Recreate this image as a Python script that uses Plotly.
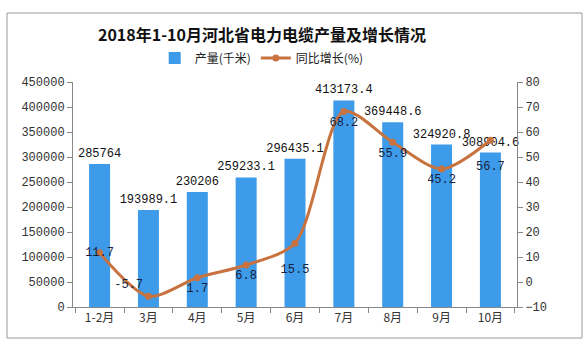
import plotly.graph_objects as go

categories = ["1-2月", "3月", "4月", "5月", "6月", "7月", "8月", "9月", "10月"]
output_km = [285764, 193989.1, 230206, 259233.1, 296435.1, 413173.4, 369448.6, 324920.8, 308904.6]
growth_pct = [11.7, -5.7, 1.7, 6.8, 15.5, 68.2, 55.9, 45.2, 56.7]
bar_labels = ["285764", "193989.1", "230206", "259233.1", "296435.1", "413173.4", "369448.6", "324920.8", "308904.6"]
line_labels = ["11.7", "-5.7", "1.7", "6.8", "<br>15.5", "68.2", "55.9", "45.2", "<br>56.7"]
line_textpos = ["middle center", "top left", "bottom center", "bottom center", "bottom center",
                "bottom center", "bottom center", "bottom center", "bottom center"]

bar_color = "#3D9BE9"
line_color = "#C8733F"
mono = "Liberation Mono"
cjk = "Noto Sans CJK SC"

fig = go.Figure()
fig.add_trace(go.Bar(
    x=categories, y=output_km, name="产量(千米)",
    marker=dict(color=bar_color, line=dict(width=0)),
    width=0.43,
    text=bar_labels, textposition="outside", cliponaxis=False, constraintext="none",
    textfont=dict(family=mono, size=12, color="#111111"),
))
fig.add_trace(go.Scatter(
    x=categories, y=growth_pct, name="同比增长(%)", yaxis="y2",
    mode="lines+markers+text",
    line=dict(color=line_color, width=3, shape="spline", smoothing=0.8),
    marker=dict(color=line_color, size=7),
    text=line_labels, textposition=line_textpos, cliponaxis=False,
    textfont=dict(family=mono, size=12, color="#1a1f3d"),
))

axis_common = dict(showgrid=False, zeroline=False, showline=True, linecolor="#888888",
                   linewidth=1, ticks="outside", ticklen=5, tickcolor="#888888",
                   tickformat="d",
                   tickfont=dict(family=mono, size=12, color="#333333"))

fig.update_layout(
    width=587, height=346,
    margin=dict(l=73, r=70, t=82, b=39),
    paper_bgcolor="white", plot_bgcolor="white",
    title=dict(text="<b>2018年1-10月河北省电力电缆产量及增长情况</b>",
               x=262 / 587, xanchor="center", y=1 - 35 / 346, yanchor="middle",
               font=dict(family=cjk, size=16, color="#111111")),
    legend=dict(orientation="h", x=0.425, xanchor="center", y=1.107, yanchor="middle",
                font=dict(family=cjk, size=12, color="#222222"), bgcolor="rgba(0,0,0,0)",
                itemwidth=30, tracegroupgap=0),
    xaxis=dict(showgrid=False, showline=True, linecolor="#888888", ticks="outside",
               ticklen=5, tickcolor="#888888", tickson="boundaries",
               tickfont=dict(family=cjk, size=12, color="#333333")),
    yaxis=dict(range=[0, 450000], tickvals=list(range(0, 450001, 50000)), **axis_common),
    yaxis2=dict(range=[-10, 80], tickvals=list(range(-10, 81, 10)), overlaying="y",
                side="right", **axis_common),
    showlegend=True,
    shapes=[dict(type="rect", xref="paper", yref="paper",
                 x0=(7 - 73) / 444, x1=(582 - 73) / 444,
                 y0=(307 - 338) / 225, y1=(307 - 13) / 225,
                 line=dict(color="#9a9a9a", width=1), fillcolor="rgba(0,0,0,0)", layer="below")],
)

fig.write_html("out.html")
